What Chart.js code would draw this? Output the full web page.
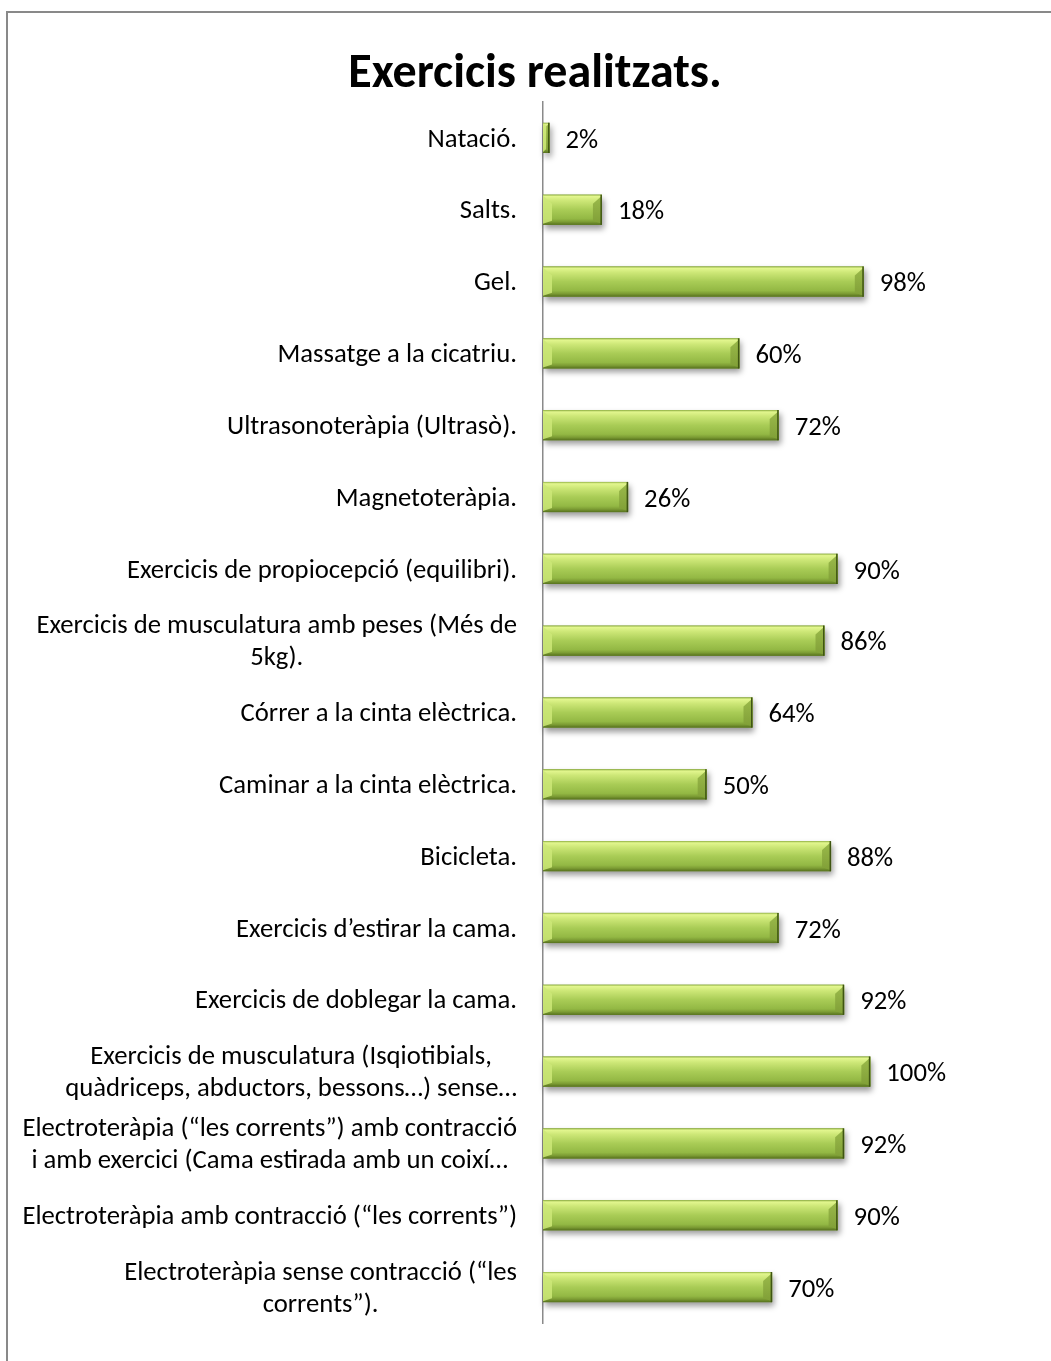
<!DOCTYPE html>
<html>
<head>
<meta charset="utf-8">
<script src="https://cdn.jsdelivr.net/npm/chart.js@4.4.1/dist/chart.umd.min.js"></script>
<style>
html,body{margin:0;padding:0;background:#fff;}
#wrap{position:relative;width:1051px;height:1361px;}
</style>
</head>
<body>
<div id="wrap"><canvas id="c" width="1051" height="1361"></canvas></div>
<script>
const TITLE = "Exercicis realitzats.";
const categories = [
  ["Natació."],
  ["Salts."],
  ["Gel."],
  ["Massatge a la cicatriu."],
  ["Ultrasonoteràpia (Ultrasò)."],
  ["Magnetoteràpia."],
  ["Exercicis de propiocepció (equilibri)."],
  ["Exercicis de musculatura amb peses (Més de", "5kg)."],
  ["Córrer a la cinta elèctrica."],
  ["Caminar a la cinta elèctrica."],
  ["Bicicleta."],
  ["Exercicis d’estirar la cama."],
  ["Exercicis de doblegar la cama."],
  ["Exercicis de musculatura (Isqiotibials,", "quàdriceps, abductors, bessons…) sense…"],
  ["Electroteràpia (“les corrents”) amb contracció", "i amb exercici (Cama estirada amb un coixí…"],
  ["Electroteràpia amb contracció (“les corrents”)"],
  ["Electroteràpia sense contracció (“les", "corrents”)."]
];
const values = [2, 18, 98, 60, 72, 26, 90, 86, 64, 50, 88, 72, 92, 100, 92, 90, 70];

const FONT = "Carlito, Calibri, Lato, 'Open Sans', sans-serif";

const decor = {
  id: 'decor',
  beforeDraw(chart) {
    const ctx = chart.ctx;
    ctx.save();
    ctx.fillStyle = '#fff';
    ctx.fillRect(0, 0, chart.width, chart.height);
    ctx.strokeStyle = '#898989';
    ctx.lineWidth = 2;
    ctx.strokeRect(7, 12, chart.width + 10, chart.height + 10);
    // title
    ctx.fillStyle = '#000';
    ctx.font = "bold 48px " + FONT;
    ctx.textAlign = 'center';
    ctx.textBaseline = 'middle';
    ctx.fillText(TITLE, 535, 75);
    // category labels
    const y = chart.scales.y;
    ctx.font = "26.7px " + FONT;
    const rightEdge = chart.chartArea.left - 26;
    const lh = 32;
    categories.forEach((lines, i) => {
      const cy = y.getPixelForValue(i) + 2;
      let maxW = 0;
      lines.forEach(l => { maxW = Math.max(maxW, ctx.measureText(l).width); });
      const cx = rightEdge - maxW / 2;
      const y0 = cy - (lines.length - 1) * lh / 2;
      lines.forEach((l, k) => ctx.fillText(l, cx, y0 + k * lh));
    });
    ctx.restore();
  },
  beforeDatasetsDraw(chart) {
    const ctx = chart.ctx;
    const meta = chart.getDatasetMeta(0);
    ctx.save();
    meta.data.forEach(bar => {
      const p = bar.getProps(['x', 'y', 'base', 'height'], true);
      const top = p.y - p.height / 2;
      ctx.shadowColor = 'rgba(0,0,0,0.4)';
      ctx.shadowBlur = 6;
      ctx.shadowOffsetY = 4;
      ctx.shadowOffsetX = 2;
      ctx.fillStyle = '#7a9a35';
      ctx.fillRect(p.base, top, p.x - p.base, p.height);
    });
    ctx.restore();
  },
  afterDatasetsDraw(chart) {
    const ctx = chart.ctx;
    const meta = chart.getDatasetMeta(0);
    ctx.save();
    meta.data.forEach((bar, i) => {
      const p = bar.getProps(['x', 'y', 'base', 'height'], true);
      const x0 = p.base, x1 = p.x, h = p.height;
      const t = p.y - h / 2, b = p.y + h / 2;
      const w = x1 - x0;
      const g = ctx.createLinearGradient(0, t, 0, b);
      g.addColorStop(0, '#93b345');
      g.addColorStop(0.06, '#e2f68e');
      g.addColorStop(0.2, '#cde777');
      g.addColorStop(0.5, '#a9cc56');
      g.addColorStop(0.8, '#93b844');
      g.addColorStop(0.9, '#7c9c34');
      g.addColorStop(1, '#56711d');
      ctx.fillStyle = g;
      ctx.fillRect(x0, t, w, h);
      const bv = Math.min(9, w / 2);
      const bt = 4;
      // left face (lighter)
      ctx.fillStyle = 'rgba(205,232,120,0.85)';
      ctx.beginPath();
      ctx.moveTo(x0, t + 1); ctx.lineTo(x0 + bv, t + bv); ctx.lineTo(x0 + bv, b - bt); ctx.lineTo(x0, b - 1); ctx.closePath(); ctx.fill();
      // right face
      const rg = ctx.createLinearGradient(0, t, 0, b);
      rg.addColorStop(0, '#9cbb4c');
      rg.addColorStop(1, '#7f9e36');
      ctx.fillStyle = rg;
      ctx.beginPath();
      ctx.moveTo(x1, t + 1); ctx.lineTo(x1, b - 1); ctx.lineTo(x1 - bv, b - bt); ctx.lineTo(x1 - bv, t + bv); ctx.closePath(); ctx.fill();
      // outline right
      ctx.strokeStyle = '#3f5512';
      ctx.lineWidth = 1.5;
      ctx.beginPath();
      ctx.moveTo(x1 - 0.75, t); ctx.lineTo(x1 - 0.75, b); ctx.stroke();
      // value label
      ctx.fillStyle = '#000';
      ctx.font = "26.7px " + FONT;
      ctx.textAlign = 'left';
      ctx.textBaseline = 'middle';
      ctx.fillText(values[i] + '%', x1 + 16, p.y + 3);
    });
    ctx.restore();
  }
};

new Chart(document.getElementById('c'), {
  type: 'bar',
  data: {
    labels: categories,
    datasets: [{
      data: values,
      backgroundColor: 'rgba(0,0,0,0)',
      borderWidth: 0,
      barPercentage: 0.42,
      categoryPercentage: 1.0
    }]
  },
  options: {
    indexAxis: 'y',
    responsive: false,
    animation: false,
    layout: { padding: { top: 102, bottom: 38, left: 0, right: 17 } },
    plugins: { legend: { display: false }, tooltip: { enabled: false }, title: { display: false } },
    scales: {
      x: { display: false, min: 0, max: 150 },
      y: {
        display: true,
        grid: { display: false, drawTicks: false },
        border: { display: true, color: '#8a8a8a', width: 1.5 },
        ticks: { display: false },
        afterFit(scale) { scale.width = 543; }
      }
    }
  },
  plugins: [decor]
});
</script>
</body>
</html>
